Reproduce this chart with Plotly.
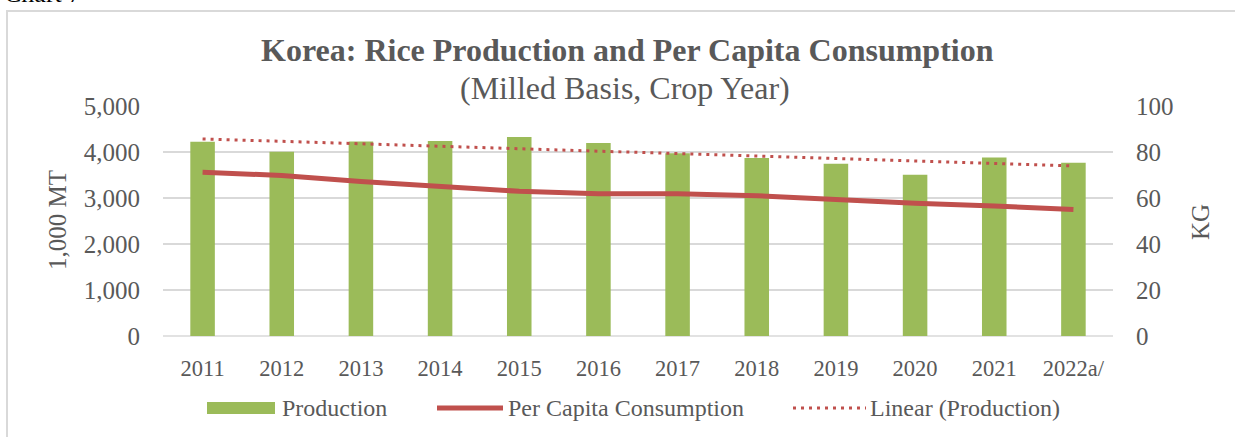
import plotly.graph_objects as go

# ---- data ----
years = ["2011", "2012", "2013", "2014", "2015", "2016", "2017", "2018", "2019", "2020", "2021", "2022a/"]
production = [4224, 4006, 4230, 4241, 4327, 4197, 3972, 3868, 3744, 3507, 3882, 3764]
per_capita = [71.2, 69.8, 67.2, 65.1, 62.9, 61.9, 61.8, 61.0, 59.2, 57.7, 56.5, 55.0]
trend_years = ["2011", "2022a/"]
trend_values = [4285, 3698]
left_ticks = [0, 1000, 2000, 3000, 4000, 5000]
right_ticks = [0, 20, 40, 60, 80, 100]

# ---- style ----
FONT = "Liberation Serif"
GRAY = "#595959"
GREEN = "#9bbb59"
RED = "#c0504d"
GRID = "#d9d9d9"

W, H = 1235, 437
L, R, T, B = 163, 122, 106, 101
PW, PH = W - L - R, H - T - B


def px(x):
    return (x - L) / PW


def py(y):
    return (H - B - y) / PH


fig = go.Figure()
fig.add_trace(go.Bar(x=years, y=production, name="Production", marker=dict(color=GREEN, line=dict(width=0)),
                     yaxis="y", showlegend=False))
fig.add_trace(go.Scatter(x=trend_years, y=trend_values, name="Linear (Production)", mode="lines",
                         line=dict(color=RED, width=3, dash="3px,5px"), yaxis="y", showlegend=False))
fig.add_trace(go.Scatter(x=years, y=per_capita, name="Per Capita Consumption", mode="lines",
                         line=dict(color=RED, width=5), yaxis="y2", showlegend=False))

fig.update_layout(
    width=W, height=H,
    margin=dict(l=L, r=R, t=T, b=B),
    paper_bgcolor="white", plot_bgcolor="white",
    font=dict(family=FONT, color=GRAY),
    bargap=0.69,
    xaxis=dict(type="category", range=[-0.5, len(years) - 0.5], showgrid=False, showline=False,
               zeroline=False, ticks="", tickfont=dict(size=22.5, color=GRAY, family=FONT),
               ticklabelstandoff=16),
    yaxis=dict(range=[0, 5000], tickvals=left_ticks, tickformat=",", showgrid=True, gridcolor=GRID,
               gridwidth=1.5, zeroline=False, showline=False, ticks="",
               tickfont=dict(size=25, color=GRAY, family=FONT), ticklabelstandoff=22),
    yaxis2=dict(range=[0, 100], tickvals=right_ticks, overlaying="y", side="right", showgrid=False,
                zeroline=False, showline=False, ticks="",
                tickfont=dict(size=25, color=GRAY, family=FONT), ticklabelstandoff=22),
)

shapes = [
    # outer chart frame (extends beyond the window on right and bottom)
    dict(type="rect", xref="paper", yref="paper", x0=px(7), x1=px(W + 20), y0=py(H + 20), y1=py(11),
         line=dict(color=GRID, width=2), fillcolor="rgba(0,0,0,0)", layer="below"),
    # bottom axis line (0 gridline)
    dict(type="line", xref="paper", yref="paper", x0=0, x1=1, y0=0, y1=0, line=dict(color=GRID, width=1.5),
         layer="below"),
    # legend symbols
    dict(type="rect", xref="paper", yref="paper", x0=px(207), x1=px(275), y0=py(414), y1=py(402),
         line=dict(width=0), fillcolor=GREEN),
    dict(type="line", xref="paper", yref="paper", x0=px(437), x1=px(503), y0=py(408), y1=py(408),
         line=dict(color=RED, width=5)),
    dict(type="line", xref="paper", yref="paper", x0=px(793), x1=px(866), y0=py(408), y1=py(408),
         line=dict(color=RED, width=3, dash="3px,5px")),
]

annotations = [
    dict(text="Chart 7", xref="paper", yref="paper", x=px(2), y=py(-6), xanchor="left", yanchor="middle",
         showarrow=False, font=dict(family=FONT, size=26, color="black")),
    dict(text="<b>Korea: Rice Production and Per Capita Consumption</b>", xref="paper", yref="paper",
         x=px(627), y=py(50), xanchor="center", yanchor="middle", showarrow=False,
         font=dict(family=FONT, size=32, color=GRAY)),
    dict(text="(Milled Basis, Crop Year)", xref="paper", yref="paper", x=px(625), y=py(88),
         xanchor="center", yanchor="middle", showarrow=False, font=dict(family=FONT, size=32, color=GRAY)),
    dict(text="1,000 MT", xref="paper", yref="paper", x=px(57), y=py(220), xanchor="center",
         yanchor="middle", textangle=-90, showarrow=False, font=dict(family=FONT, size=25, color=GRAY)),
    dict(text="KG", xref="paper", yref="paper", x=px(1200), y=py(222), xanchor="center",
         yanchor="middle", textangle=-90, showarrow=False, font=dict(family=FONT, size=25, color=GRAY)),
    dict(text="Production", xref="paper", yref="paper", x=px(280), y=py(408), xanchor="left",
         yanchor="middle", showarrow=False, font=dict(family=FONT, size=24, color=GRAY)),
    dict(text="Per Capita Consumption", xref="paper", yref="paper", x=px(506), y=py(408), xanchor="left",
         yanchor="middle", showarrow=False, font=dict(family=FONT, size=24, color=GRAY)),
    dict(text="Linear (Production)", xref="paper", yref="paper", x=px(868), y=py(408), xanchor="left",
         yanchor="middle", showarrow=False, font=dict(family=FONT, size=24, color=GRAY)),
]

fig.update_layout(shapes=shapes, annotations=annotations)
fig.write_html("out.html")
